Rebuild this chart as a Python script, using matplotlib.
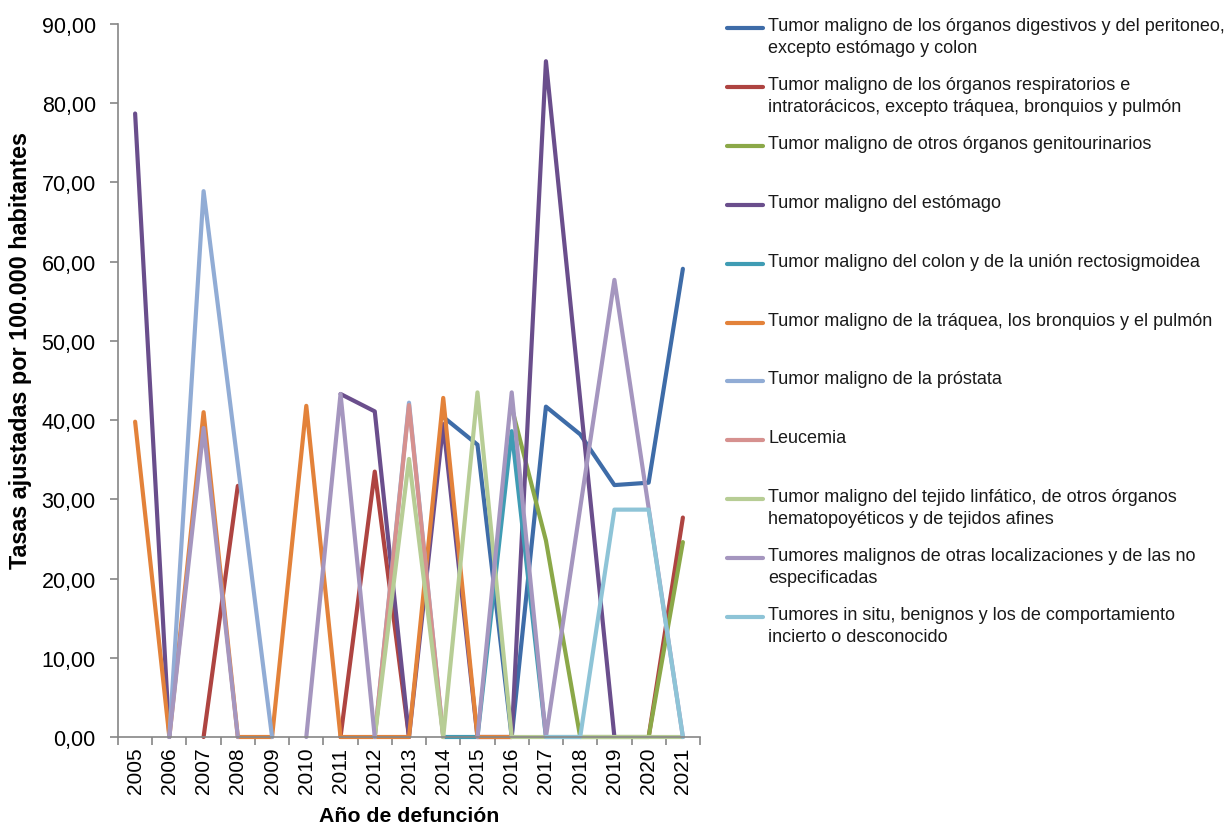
import numpy as np
import matplotlib
matplotlib.use("Agg")
import matplotlib.pyplot as plt
from matplotlib.ticker import FixedLocator, FuncFormatter

plt.rcParams['font.family'] = ['Liberation Sans', 'DejaVu Sans']

nan = np.nan
years = [str(y) for y in range(2005, 2022)]

digestivos = [nan, nan, nan, nan, nan, nan, nan, nan, nan, 40.4, 36.9, 0, 41.7, 38.2, 31.8, 32.1, 59.1]
respiratorios = [nan, nan, 0, 31.7, nan, nan, 0, 33.5, 0, nan, nan, nan, nan, nan, nan, 0, 27.7]
genitourinarios = [nan, nan, nan, nan, nan, nan, nan, nan, nan, nan, nan, 41.6, 24.8, 0, 0, 0, 24.6]
estomago = [78.7, 0, nan, nan, nan, nan, 43.3, 41.1, 0, 39.5, 0, 0, 85.3, 42.6, 0, nan, nan]
colon = [nan, nan, nan, nan, nan, nan, nan, nan, nan, 0, 0, 38.6, 0, nan, nan, nan, nan]
traquea = [39.8, 0, 41.0, 0, 0, 41.8, 0, 0, 0, 42.8, 0, 0, nan, nan, nan, nan, nan]
prostata = [nan, 0, 68.9, 34.4, 0, nan, nan, 0, 42.2, 0, nan, nan, nan, nan, nan, nan, nan]
leucemia = [nan, nan, nan, nan, nan, nan, nan, 0, 41.9, 0, nan, nan, nan, nan, nan, nan, nan]
linfatico = [nan, nan, nan, nan, nan, nan, nan, 0, 35.1, 0, 43.5, 0, 0, 0, 0, 0, 0]
otras = [nan, 0, 39.0, 0, nan, 0, 43.3, 0, nan, nan, 0, 43.5, 0, 28.9, 57.7, 28.9, 0]
in_situ = [nan, nan, nan, nan, nan, nan, nan, nan, nan, nan, nan, nan, 0, 0, 28.7, 28.7, 0]

labels = [
    "Tumor maligno de los órganos digestivos y del peritoneo,\nexcepto estómago y colon",
    "Tumor maligno de los órganos respiratorios e\nintratorácicos, excepto tráquea, bronquios y pulmón",
    "Tumor maligno de otros órganos genitourinarios",
    "Tumor maligno del estómago",
    "Tumor maligno del colon y de la unión rectosigmoidea",
    "Tumor maligno de la tráquea, los bronquios y el pulmón",
    "Tumor maligno de la próstata",
    "Leucemia",
    "Tumor maligno del tejido linfático, de otros órganos\nhematopoyéticos y de tejidos afines",
    "Tumores malignos de otras localizaciones y de las no\nespecificadas",
    "Tumores in situ, benignos y los de comportamiento\nincierto o desconocido",
]
series = [digestivos, respiratorios, genitourinarios, estomago, colon, traquea,
          prostata, leucemia, linfatico, otras, in_situ]
colors = ["#3E6CA8", "#AE4441", "#8BA848", "#6A4E8C", "#3F9CB4", "#E3823A",
          "#91ACD5", "#D6918F", "#B7CD95", "#A596BF", "#8EC4D7"]

W, H = 1229, 828
fig = plt.figure(figsize=(W / 100, H / 100), dpi=100)
ax = fig.add_axes([118 / W, 1 - 738 / H, (700 - 118) / W, (738 - 25) / H])

x = np.arange(len(years))
for vals, col, lab in zip(series, colors, labels):
    ax.plot(x, vals, color=col, lw=3.0, solid_joinstyle='round',
            solid_capstyle='round', label=lab, clip_on=False)

ax.set_xlim(-0.5, len(years) - 0.5)
ax.set_ylim(0, 90)

axis_gray = "#868686"
for side in ("top", "right"):
    ax.spines[side].set_visible(False)
for side in ("left", "bottom"):
    ax.spines[side].set_color(axis_gray)
    ax.spines[side].set_linewidth(1.2)

ax.set_yticks(np.arange(0, 91, 10))
ax.yaxis.set_major_formatter(FuncFormatter(lambda v, p: f"{v:.2f}".replace(".", ",")))
ax.tick_params(axis='y', direction='out', length=6, width=1.2, color=axis_gray,
               labelsize=15.5, pad=10)

ax.xaxis.set_major_locator(FixedLocator(np.arange(-0.5, len(years), 1.0)))
ax.xaxis.set_minor_locator(FixedLocator(x))
ax.set_xticklabels([], minor=False)
ax.set_xticklabels(years, minor=True, rotation=90)
ax.tick_params(axis='x', which='major', direction='out', length=6, width=1.2, color=axis_gray)
ax.tick_params(axis='x', which='minor', length=0, labelsize=15, pad=7)

ax.set_xlabel("Año de defunción", fontsize=15.3, fontweight='bold', labelpad=9)
ax.set_ylabel("Tasas ajustadas por 100.000 habitantes", fontsize=16.8, fontweight='bold')
ax.yaxis.set_label_coords(-0.147, 0.544)

# legend on the right: one slot per series, handle beside the first text line
leg_x0, leg_x1, text_x = 727, 763, 768
top_y, step = 29, 58.9
for i, (col, lab) in enumerate(zip(colors, labels)):
    y = top_y + i * step
    fy = 1 - y / H
    fig.add_artist(plt.Line2D([leg_x0 / W, leg_x1 / W], [fy, fy], color=col, lw=3.0,
                              solid_capstyle='round', transform=fig.transFigure))
    fig.text(text_x / W, 1 - (y - 11) / H, lab, fontsize=13, va='top', ha='left',
             linespacing=1.38, color="#1a1a1a")

fig.savefig("out.png", dpi=100)
